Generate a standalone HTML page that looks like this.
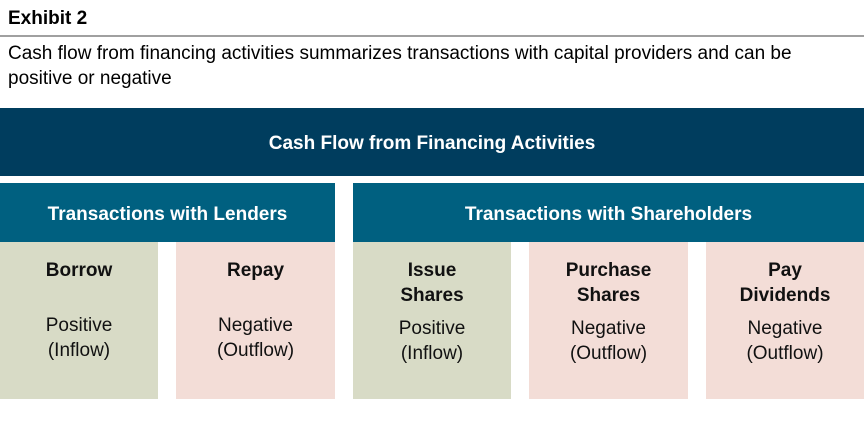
<!DOCTYPE html>
<html><head><style>
body{margin:0;width:864px;height:430px;background:#fff;font-family:"Liberation Sans",Arial,sans-serif;position:relative;overflow:hidden}
div{position:absolute;box-sizing:border-box}
.t{color:#000}
.hd{color:#fff;font-weight:bold;font-size:19px;text-align:center}
.bx{top:242px;height:157px;text-align:center;font-size:19px;color:#111}
.g{background:#d8dbc6}.p{background:#f3ddd7}
.bx b{position:absolute;left:0;right:0;top:16px;line-height:25px}
.bx span{position:absolute;left:0;right:0;line-height:25px}
</style></head><body>
<div class="t" style="left:8px;top:8px;font-size:19px;font-weight:bold">Exhibit 2</div>
<div style="left:0;top:35px;width:864px;height:2px;background:#a0a0a0"></div>
<div class="t" style="left:8px;top:41px;font-size:19px;line-height:25px;width:815px">Cash flow from financing activities summarizes transactions with capital providers and can be positive or negative</div>
<div class="hd" style="left:0;top:108px;width:864px;height:68px;background:#003d5e;line-height:72px">Cash Flow from Financing Activities</div>
<div class="hd" style="left:0;top:183px;width:335px;height:59px;background:#006080;line-height:63px">Transactions with Lenders</div>
<div class="hd" style="left:353px;top:183px;width:511px;height:59px;background:#006080;line-height:63px">Transactions with Shareholders</div>
<div class="bx g" style="left:0;width:158px"><b>Borrow</b><span style="top:71px">Positive<br>(Inflow)</span></div>
<div class="bx p" style="left:176px;width:159px"><b>Repay</b><span style="top:71px">Negative<br>(Outflow)</span></div>
<div class="bx g" style="left:353px;width:158px"><b>Issue<br>Shares</b><span style="top:74px">Positive<br>(Inflow)</span></div>
<div class="bx p" style="left:529px;width:159px"><b>Purchase<br>Shares</b><span style="top:74px">Negative<br>(Outflow)</span></div>
<div class="bx p" style="left:706px;width:158px"><b>Pay<br>Dividends</b><span style="top:74px">Negative<br>(Outflow)</span></div>
</body></html>
